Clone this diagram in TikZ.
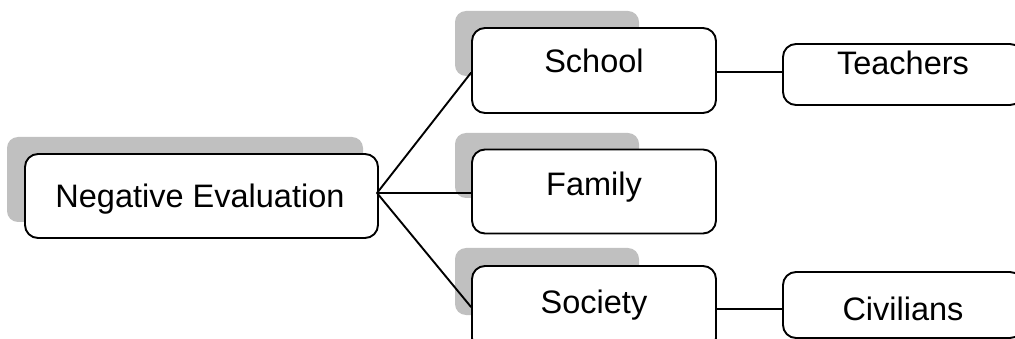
\documentclass[tikz,border=0pt]{standalone}
\usepackage{fontspec}
\setmainfont{Liberation Sans}
\definecolor{shadowgray}{HTML}{C0C0C0}
\begin{document}
\begin{tikzpicture}[x=1pt,y=-1pt,
  box/.style={draw=black, line width=1.9pt, rounded corners=13pt, fill=white, inner sep=0pt},
  shade/.style={fill=shadowgray, rounded corners=11pt},
  lbl/.style={anchor=base, inner sep=0pt, font=\fontsize{32.5}{38}\selectfont},
  conn/.style={draw=black, line width=1.9pt}]
\useasboundingbox (0,0) rectangle (1015,339);
\clip (0,0) rectangle (1015,339);
\fill[white] (0,0) rectangle (1015,339);
% shadows
\fill[shade] (7,137) rectangle (363,222);
\fill[shade] (455,11) rectangle (639,76);
\fill[shade] (455,133) rectangle (639,198);
\fill[shade] (455,248) rectangle (639,315);
% junction
\coordinate (j) at (377,193);
% boxes
\node[box, minimum width=353pt, minimum height=84pt] (neg) at (201.5,196) {};
\node[box, minimum width=244pt, minimum height=85pt] (school) at (594,70.5) {};
\node[box, minimum width=244pt, minimum height=84pt] (family) at (594,191.5) {};
\node[box, minimum width=244pt, minimum height=85pt] (society) at (594,308.5) {};
\node[box, minimum width=240pt, minimum height=61pt] (teachers) at (903,74.5) {};
\node[box, minimum width=240pt, minimum height=66pt] (civilians) at (903,305) {};
\coordinate (se) at ([yshift=-1.2pt]school.east);
\coordinate (soe) at ([yshift=-0.5pt]society.east);
% lines
\draw[conn, line cap=round] (j) -- ([yshift=-2.2pt]school.west);
\draw[conn] (j) -- ([yshift=-1.5pt]family.west);
\draw[conn, line cap=round] (j) -- ([yshift=1.5pt]society.west);
\draw[conn] (se) -- (teachers.west |- se);
\draw[conn] (soe) -- (civilians.west |- soe);
% labels
\node[lbl] (tneg) at (200,208) {Negative Evaluation};
\node[lbl] (tschool) at (594,73) {School};
\node[lbl] (tfamily) at (594,196) {Family};
\node[lbl] (tsociety) at (594,313.5) {Society};
\node[lbl] (tteachers) at (903,75) {Teachers};
\node[lbl] (tcivilians) at (903,320) {Civilians};
\end{tikzpicture}
\end{document}
